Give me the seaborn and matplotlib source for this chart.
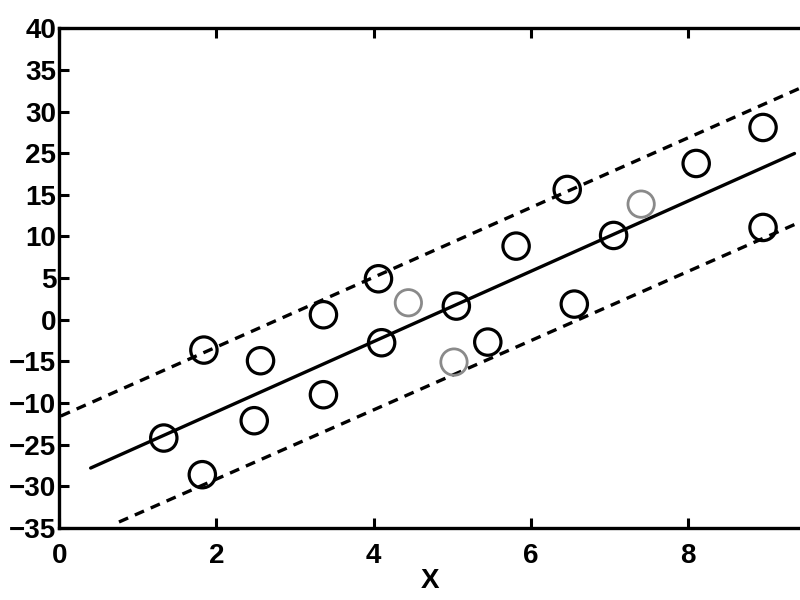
import numpy as np
import pandas as pd
import matplotlib
matplotlib.use("Agg")
import matplotlib.pyplot as plt
import seaborn as sns

sns.set_style("ticks")
plt.rcParams['font.family'] = ['Liberation Sans', 'DejaVu Sans']
plt.rcParams['font.weight'] = 'bold'
plt.rcParams['axes.edgecolor'] = 'black'
plt.rcParams['xtick.color'] = 'black'
plt.rcParams['ytick.color'] = 'black'
plt.rcParams['text.color'] = 'black'
plt.rcParams['axes.labelcolor'] = 'black'

# scatter points (y in linear axis units, -35 .. 40)
pt_x = [1.33, 1.84, 1.82, 2.56, 2.48, 3.36, 3.36, 4.06, 4.10, 4.44, 5.05,
        5.02, 5.45, 5.81, 6.46, 6.55, 7.05, 7.40, 8.10, 8.95, 8.95]
pt_y = [-21.5, -8.3, -27.0, -9.9, -18.9, -3.0, -15.0, 2.4, -7.2, -1.2, -1.7,
        -10.1, -7.1, 7.3, 15.8, -1.4, 8.9, 13.6, 19.7, 25.1, 10.1]
pt_faint = [False, False, False, False, False, False, False, False, False, True, False,
            True, False, False, False, False, False, True, False, False, False]

# fitted line and bounds
fit_x = [0.40, 9.35]
fit_y = [-26.0, 21.2]
upper_x = [0.02, 9.42]
upper_y = [-18.2, 31.0]
lower_x = [0.76, 9.42]
lower_y = [-34.1, 10.9]

ytick_vals = [-35, -28.75, -22.5, -16.25, -10, -3.75, 2.5, 8.75, 15, 21.25, 27.5, 33.75, 40]
ytick_labels = ['−35', '−30', '−25', '−10', '−15', '0', '5', '10', '15', '25', '30', '35', '40']
xtick_vals = [0, 2, 4, 6, 8]

df = pd.DataFrame({'x': pt_x, 'y': pt_y, 'faint': pt_faint})

fig = plt.figure(figsize=(8, 6), dpi=100)
ax = fig.add_axes([0.074, 0.12, 0.926, 0.833])

sns.lineplot(x=fit_x, y=fit_y, ax=ax, color='black', linewidth=2.4)
sns.lineplot(x=upper_x, y=upper_y, ax=ax, color='black', linewidth=2.4, linestyle=(0, (3, 2.2)))
sns.lineplot(x=lower_x, y=lower_y, ax=ax, color='black', linewidth=2.4, linestyle=(0, (3, 2.2)))

sns.scatterplot(data=df[~df['faint']], x='x', y='y', ax=ax, s=360, facecolor='none',
                edgecolor='black', linewidth=2.3, zorder=3)
sns.scatterplot(data=df[df['faint']], x='x', y='y', ax=ax, s=360, facecolor='none',
                edgecolor='#8a8a8a', linewidth=2.0, zorder=3)

ax.set_xlim(0, 9.42)
ax.set_ylim(-35, 40)
ax.set_xticks(xtick_vals)
ax.set_xticklabels([str(v) for v in xtick_vals])
ax.set_yticks(ytick_vals)
ax.set_yticklabels(ytick_labels)
ax.tick_params(direction='in', length=7, width=2.2, labelsize=20, top=True, pad=2)
ax.tick_params(axis='x', pad=11)
for lab in ax.get_xticklabels() + ax.get_yticklabels():
    lab.set_fontweight('bold')

for side in ['left', 'bottom', 'top']:
    ax.spines[side].set_linewidth(2.4)
ax.spines['right'].set_visible(False)

ax.set_xlabel('X', fontsize=20, fontweight='bold', labelpad=-1)
ax.set_ylabel('')

fig.savefig('out.png', dpi=100)
